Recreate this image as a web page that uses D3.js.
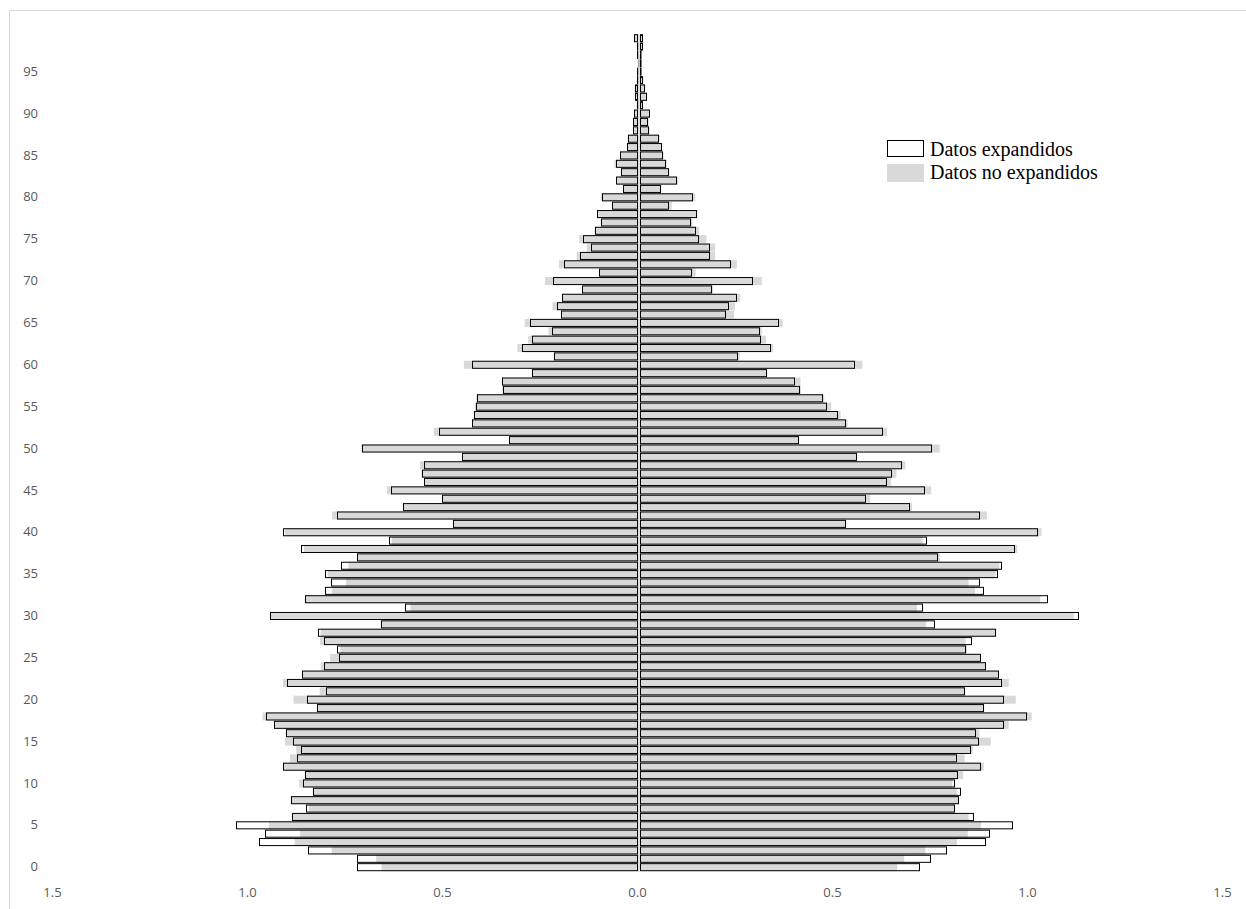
<!DOCTYPE html>
<html><head><meta charset="utf-8">
<script src="https://cdn.jsdelivr.net/npm/d3@7"></script>
<style>html,body{margin:0;padding:0;background:#fff;overflow:hidden}</style>
</head><body>
<svg id="chart" width="1246" height="909"></svg>
<script>
const ages = d3.range(0, 100);
const yTickValues = [0,5,10,15,20,25,30,35,40,45,50,55,60,65,70,75,80,85,90,95];
const xTickValues = [-1.5,-1.0,-0.5,0,0.5,1.0,1.5];
const xTickLabels = ["1.5","1.0","0.5","0.0","0.5","1.0","1.5"];
const seriesNames = ["Datos expandidos","Datos no expandidos"];

const leftExp = [
0.722,0.723,0.850,0.974,0.958,1.034,0.889,0.853,0.893,0.836,
0.862,0.857,0.913,0.877,0.867,0.888,0.906,0.936,0.957,0.825,
0.852,0.802,0.902,0.864,0.807,0.768,0.775,0.807,0.823,0.662,
0.947,0.600,0.857,0.805,0.790,0.806,0.764,0.722,0.867,0.641,
0.913,0.476,0.775,0.605,0.504,0.635,0.551,0.556,0.550,0.454,
0.710,0.333,0.513,0.427,0.424,0.419,0.415,0.349,0.351,0.275,
0.428,0.219,0.301,0.275,0.223,0.279,0.199,0.210,0.197,0.145,
0.220,0.103,0.192,0.151,0.124,0.143,0.114,0.098,0.107,0.068,
0.094,0.040,0.059,0.045,0.060,0.048,0.031,0.029,0.015,0.015,
0.012,0.006,0.010,0.011,0.004,0.004,0.003,0.005,0.005,0.012];
const leftNoExp = [
0.660,0.674,0.788,0.883,0.869,0.949,0.889,0.847,0.893,0.836,
0.871,0.857,0.913,0.895,0.879,0.908,0.906,0.936,0.965,0.825,
0.886,0.819,0.913,0.864,0.816,0.792,0.766,0.818,0.816,0.662,
0.945,0.586,0.857,0.787,0.751,0.798,0.745,0.722,0.859,0.634,
0.908,0.476,0.787,0.605,0.504,0.646,0.551,0.558,0.562,0.454,
0.712,0.333,0.526,0.427,0.424,0.421,0.417,0.351,0.351,0.275,
0.449,0.219,0.312,0.284,0.232,0.293,0.199,0.222,0.197,0.145,
0.241,0.103,0.205,0.160,0.134,0.153,0.114,0.098,0.107,0.068,
0.098,0.040,0.059,0.045,0.063,0.048,0.031,0.029,0.015,0.015,
0.012,0.006,0.010,0.011,0.004,0.004,0.003,0.005,0.005,0.012];
const rightExp = [
0.721,0.749,0.789,0.889,0.899,0.960,0.859,0.809,0.820,0.826,
0.809,0.817,0.876,0.815,0.850,0.871,0.863,0.935,0.994,0.885,
0.935,0.836,0.930,0.922,0.889,0.877,0.838,0.853,0.916,0.760,
1.128,0.728,1.048,0.884,0.875,0.921,0.930,0.766,0.963,0.738,
1.022,0.531,0.874,0.696,0.583,0.734,0.637,0.648,0.674,0.559,
0.750,0.410,0.625,0.532,0.509,0.483,0.471,0.412,0.401,0.329,
0.554,0.255,0.338,0.313,0.310,0.359,0.224,0.230,0.250,0.187,
0.293,0.137,0.235,0.181,0.182,0.155,0.145,0.134,0.148,0.078,
0.139,0.057,0.098,0.077,0.069,0.061,0.060,0.052,0.025,0.024,
0.028,0.009,0.021,0.016,0.010,0.002,0.002,0.004,0.010,0.009];
const rightNoExp = [
0.662,0.680,0.734,0.815,0.843,0.877,0.845,0.809,0.820,0.815,
0.803,0.831,0.884,0.835,0.856,0.902,0.873,0.948,1.007,0.885,
0.966,0.836,0.948,0.922,0.889,0.874,0.841,0.837,0.916,0.736,
1.115,0.713,1.029,0.862,0.845,0.914,0.924,0.772,0.970,0.727,
1.032,0.531,0.892,0.700,0.593,0.749,0.646,0.660,0.683,0.559,
0.771,0.410,0.636,0.535,0.517,0.493,0.475,0.415,0.414,0.329,
0.573,0.258,0.344,0.326,0.315,0.368,0.244,0.246,0.260,0.190,
0.315,0.145,0.251,0.195,0.195,0.173,0.154,0.137,0.150,0.084,
0.144,0.057,0.100,0.078,0.071,0.063,0.060,0.053,0.027,0.025,
0.028,0.010,0.021,0.016,0.011,0.005,0.005,0.005,0.010,0.009];

const svg = d3.select("#chart");
// chart area border
svg.append("rect").attr("x",9.5).attr("y",10.5).attr("width",1260).attr("height",930)
  .attr("fill","none").attr("stroke","#d9d9d9").attr("stroke-width",1);

const x = d3.scaleLinear().domain([-1.5,1.5]).range([54,1224]);
const y = d3.scaleBand().domain(ages.slice().reverse()).range([34.2,871.2]).paddingInner(0.04);
const x0 = x(0);
const gray = "#d9d9d9";

function rows(arr){ return ages.map(a => ({age:a, v:arr[a]})); }

const gBars = svg.append("g");
// non-expanded (gray fill) drawn first
gBars.selectAll("rect.ln").data(rows(leftNoExp)).join("rect")
  .attr("x", d => x(-d.v)).attr("y", d => y(d.age))
  .attr("width", d => Math.max(0, x0 - 1 - x(-d.v))).attr("height", y.bandwidth())
  .attr("fill", gray);
gBars.selectAll("rect.rn").data(rows(rightNoExp)).join("rect")
  .attr("x", x0 + 1).attr("y", d => y(d.age))
  .attr("width", d => Math.max(0, x(d.v) - x0 - 1)).attr("height", y.bandwidth())
  .attr("fill", gray);

const gOut = svg.append("g");
gOut.selectAll("rect.le").data(rows(leftExp)).join("rect")
  .attr("x", d => Math.round(x(-d.v)) + 0.5).attr("y", d => y(d.age) + 0.5)
  .attr("width", d => Math.max(0.5, Math.round(x0 - 1) - Math.round(x(-d.v)) - 1))
  .attr("height", y.bandwidth() - 1)
  .attr("fill", "none").attr("stroke", "#000").attr("stroke-width", 1);
gOut.selectAll("rect.re").data(rows(rightExp)).join("rect")
  .attr("x", Math.round(x0 + 1) + 0.5).attr("y", d => y(d.age) + 0.5)
  .attr("width", d => Math.max(0.5, Math.round(x(d.v)) - Math.round(x0 + 1) - 1))
  .attr("height", y.bandwidth() - 1)
  .attr("fill", "none").attr("stroke", "#000").attr("stroke-width", 1);

// vertical axis line at zero
svg.append("line").attr("x1", x0).attr("x2", x0).attr("y1", 34).attr("y2", 872)
  .attr("stroke", "#d6d6d6").attr("stroke-width", 1.5);

// y tick labels
const yAxis = d3.axisLeft(y).tickValues(yTickValues).tickSize(0).tickPadding(0);
const gy = svg.append("g").attr("transform", "translate(38,0)").call(yAxis);
gy.select(".domain").remove();
gy.selectAll("text").attr("font-family","'Open Sans', sans-serif").attr("font-size","13px").attr("fill","#595959");

// x tick labels
const xAxis = d3.axisBottom(x).tickValues(xTickValues).tickSize(0).tickPadding(0)
  .tickFormat((d,i) => xTickLabels[i]);
const gx = svg.append("g").attr("transform", "translate(-2,888)").call(xAxis);
gx.select(".domain").remove();
gx.selectAll("text").attr("font-family","'Open Sans', sans-serif").attr("font-size","13px").attr("fill","#595959");

// legend
const leg = svg.append("g");
leg.append("rect").attr("x",887.5).attr("y",140.5).attr("width",36).attr("height",16)
  .attr("fill","#fff").attr("stroke","#000");
leg.append("rect").attr("x",887).attr("y",164).attr("width",37).attr("height",18).attr("fill",gray);
leg.selectAll("text").data(seriesNames).join("text")
  .attr("x",930).attr("y",(d,i)=>149+i*23).attr("dy","0.35em")
  .attr("font-family","'Liberation Serif', 'Times New Roman', serif").attr("font-size","20px")
  .attr("fill","#000").text(d=>d);
</script>
</body></html>
